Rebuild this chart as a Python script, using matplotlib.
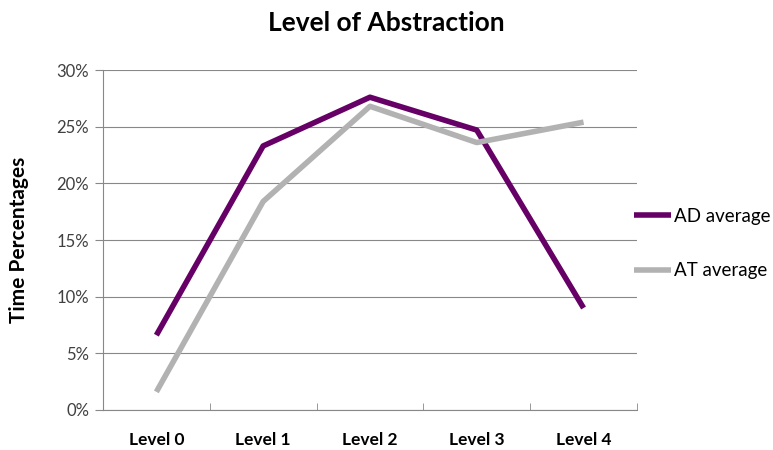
import matplotlib.pyplot as plt
import numpy as np

levels = ['Level 0', 'Level 1', 'Level 2', 'Level 3', 'Level 4']
ad_avg = [6.6, 23.3, 27.6, 24.7, 9.0]
at_avg = [1.6, 18.4, 26.8, 23.6, 25.4]

plt.rcParams['font.family'] = ['Lato', 'DejaVu Sans']

fig = plt.figure(figsize=(7.73, 4.5), dpi=100)
ax = fig.add_axes([0.1332, 0.0889, 0.824 - 0.1332, 0.8444 - 0.0889])

x = np.arange(len(levels))
ax.plot(x, ad_avg, color='#660066', lw=4, label='AD average', solid_capstyle='butt')
ax.plot(x, at_avg, color='#B2B2B2', lw=4, label='AT average', solid_capstyle='butt')

ax.set_xlim(-0.5, len(levels) - 0.5)
ax.set_ylim(0, 30)
ax.set_yticks(np.arange(0, 31, 5))
ax.set_yticklabels([f'{v}%' for v in range(0, 31, 5)], fontsize=12, color='#404040')
ax.set_xticks(x)
ax.set_xticklabels(levels, fontsize=12.5, fontweight='bold')
ax.set_xticks(np.arange(-0.5, len(levels), 1), minor=True)
ax.tick_params(axis='x', which='major', length=0, pad=16)
ax.tick_params(axis='x', which='minor', length=5, direction='in', color='#888888')
ax.tick_params(axis='y', length=6, color='#888888', pad=4)

ax.grid(axis='y', color='#888888', lw=0.8)
ax.set_axisbelow(True)
for side in ['top', 'right']:
    ax.spines[side].set_visible(False)
for side in ['left', 'bottom']:
    ax.spines[side].set_color('#888888')

ax.set_ylabel('Time Percentages', fontsize=15, fontweight='bold', labelpad=20)
fig.suptitle('Level of Abstraction', fontsize=19, fontweight='bold', y=0.975)

ax.legend(loc='center left', bbox_to_anchor=(0.994, 0.49), frameon=False,
          borderaxespad=0, borderpad=0, fontsize=13.5, handlelength=2.0,
          handletextpad=0.15, labelspacing=2.0)

fig.savefig('out.png', dpi=100)
